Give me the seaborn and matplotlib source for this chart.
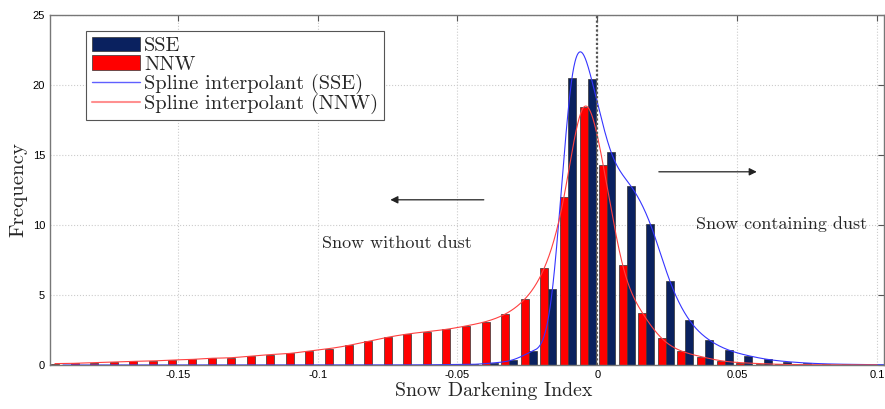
import numpy as np
import pandas as pd
import matplotlib
matplotlib.use("Agg")
import matplotlib.pyplot as plt
import seaborn as sns
from matplotlib.patches import Patch
from matplotlib.lines import Line2D

# ---------------- data ----------------
bin_centers = [-0.1925, -0.1855, -0.1785, -0.1715, -0.1645, -0.1575, -0.1505,
               -0.1435, -0.1365, -0.1295, -0.1225, -0.1155, -0.1085, -0.1015,
               -0.0945, -0.0875, -0.0805, -0.0735, -0.0665, -0.0595, -0.0525,
               -0.0455, -0.0385, -0.0315, -0.0245, -0.0175, -0.0105, -0.0035,
               0.0035, 0.0105, 0.0175, 0.0245, 0.0315, 0.0385, 0.0455,
               0.0525, 0.0595, 0.0665, 0.0735, 0.0805, 0.0875, 0.0945, 0.1015]
nnw = [0.10, 0.12, 0.17, 0.21, 0.26, 0.29, 0.36, 0.40, 0.48, 0.52, 0.64, 0.74,
       0.83, 1.00, 1.17, 1.40, 1.69, 1.98, 2.21, 2.38, 2.55, 2.79, 3.10, 3.64,
       4.71, 6.95, 12.0, 18.4, 14.3, 7.14, 3.74, 1.90, 1.00, 0.60, 0.31, 0.17,
       0.10, 0.05, 0.03, 0.02, 0.01, 0.01, 0.01]
sse = [0.0, 0.0, 0.0, 0.0, 0.0, 0.0, 0.0, 0.0, 0.0, 0.0, 0.0, 0.0, 0.0, 0.0,
       0.0, 0.0, 0.0, 0.01, 0.01, 0.02, 0.03, 0.05, 0.15, 0.38, 1.0, 5.4,
       20.5, 20.4, 15.2, 12.8, 10.07, 6.0, 3.2, 1.8, 1.07, 0.67, 0.4, 0.24,
       0.14, 0.08, 0.05, 0.03, 0.02]

bin_width = 0.007
x_ticks = [-0.15, -0.1, -0.05, 0, 0.05, 0.1]
x_tick_labels = ["-0.15", "-0.1", "-0.05", "0", "0.05", "0.1"]
y_ticks = [0, 5, 10, 15, 20, 25]

NAVY = "#0a215f"
RED = "#ff0000"

df = pd.DataFrame({
    "x": bin_centers * 2,
    "h": nnw + sse,
    "series": ["NNW"] * len(bin_centers) + ["SSE"] * len(bin_centers),
})


def natural_spline(x, y, xs):
    x = np.asarray(x, float)
    y = np.asarray(y, float)
    n = len(x)
    h = np.diff(x)
    A = np.zeros((n, n))
    b = np.zeros(n)
    A[0, 0] = 1
    A[-1, -1] = 1
    for i in range(1, n - 1):
        A[i, i - 1] = h[i - 1]
        A[i, i] = 2 * (h[i - 1] + h[i])
        A[i, i + 1] = h[i]
        b[i] = 3 * ((y[i + 1] - y[i]) / h[i] - (y[i] - y[i - 1]) / h[i - 1])
    c = np.linalg.solve(A, b)
    bc = (y[1:] - y[:-1]) / h - h * (2 * c[:-1] + c[1:]) / 3
    d = (c[1:] - c[:-1]) / (3 * h)
    idx = np.clip(np.searchsorted(x, xs) - 1, 0, n - 2)
    dx = xs - x[idx]
    return y[idx] + bc[idx] * dx + c[idx] * dx ** 2 + d[idx] * dx ** 3


# ---------------- figure ----------------
sns.set_style("white")
plt.rcParams["font.family"] = ["Liberation Sans", "DejaVu Sans"]

fig = plt.figure(figsize=(8.85, 4.09), dpi=100)
ax = fig.add_axes([50 / 885, 1 - 365 / 409, 834 / 885, 350 / 409])

shrink = 0.82
edges = [round(k * bin_width, 4) for k in range(-28, 16)]
sns.histplot(data=df, x="x", weights="h", hue="series", hue_order=["NNW", "SSE"],
             bins=edges, multiple="dodge", shrink=shrink,
             palette={"NNW": RED, "SSE": NAVY}, alpha=1, edgecolor="#333333",
             linewidth=0.5, legend=False, ax=ax)

off = bin_width * shrink / 4
xc = np.asarray(bin_centers)
xs_r = np.linspace(xc[0] - off, xc[-1] - off, 2000)
xs_b = np.linspace(xc[0] + off, xc[-1] + off, 2000)
spl_r = natural_spline(xc - off, nnw, xs_r)
spl_b = natural_spline(xc + off, sse, xs_b)
sns.lineplot(x=xs_b, y=spl_b, color="#3535ff", lw=0.8, ax=ax)
sns.lineplot(x=xs_r, y=spl_r, color="#ff4040", lw=0.8, ax=ax)

ax.axvline(0, color="#555555", ls=(0, (1, 1)), lw=1.6, zorder=5)

ax.set_xlim(-0.1957, 0.1025)
ax.set_ylim(0, 25)
ax.set_xticks(x_ticks)
ax.set_xticklabels(x_tick_labels)
ax.set_yticks(y_ticks)
ax.tick_params(direction="in", length=4, labelsize=8, color="#555555",
               top=True, right=True, labelcolor="black")
ax.grid(True, ls=":", color="#cccccc", lw=0.8)
ax.set_axisbelow(True)
for s in ax.spines.values():
    s.set_color("#777777")
    s.set_linewidth(1.0)

ax.set_xlabel("Snow Darkening Index", family="cmr10", fontsize=14.3)
ax.xaxis.set_label_coords((494 - 50) / 834, -0.048, transform=ax.transAxes)
ax.xaxis.label.set_va("top")
ax.set_ylabel("Frequency", family="cmr10", fontsize=15, labelpad=4)

# arrows & annotations
ax.annotate("", xy=(-0.075, 11.8), xytext=(-0.0396, 11.8),
            arrowprops=dict(arrowstyle="-|>", color="#222222", lw=0.9,
                            mutation_scale=11))
ax.annotate("", xy=(0.058, 13.8), xytext=(0.021, 13.8),
            arrowprops=dict(arrowstyle="-|>", color="#222222", lw=0.9,
                            mutation_scale=11))
ax.text(-0.0718, 8.7, "Snow without dust", family="cmr10", fontsize=13,
        ha="center", va="center")
ax.text(0.0657, 10.07, "Snow containing dust", family="cmr10", fontsize=13,
        ha="center", va="center")

handles = [Patch(facecolor=NAVY, edgecolor="#333333", lw=0.5),
           Patch(facecolor=RED, edgecolor="#333333", lw=0.5),
           Line2D([], [], color="#6060ff", lw=1),
           Line2D([], [], color="#ff9090", lw=1.5)]
labels = ["SSE", "NNW", "Spline interpolant (SSE)", "Spline interpolant (NNW)"]
leg = ax.legend(handles, labels, loc="upper left",
                bbox_to_anchor=(36 / 834, (365 - 31) / 350),
                borderaxespad=0, prop={"family": "cmr10", "size": 14.7},
                fancybox=False, edgecolor="#555555", framealpha=1,
                handlelength=2.35, handletextpad=0.2, labelspacing=0.0,
                borderpad=0.3)
leg.get_frame().set_linewidth(0.8)

fig.savefig("out.png", dpi=100)
